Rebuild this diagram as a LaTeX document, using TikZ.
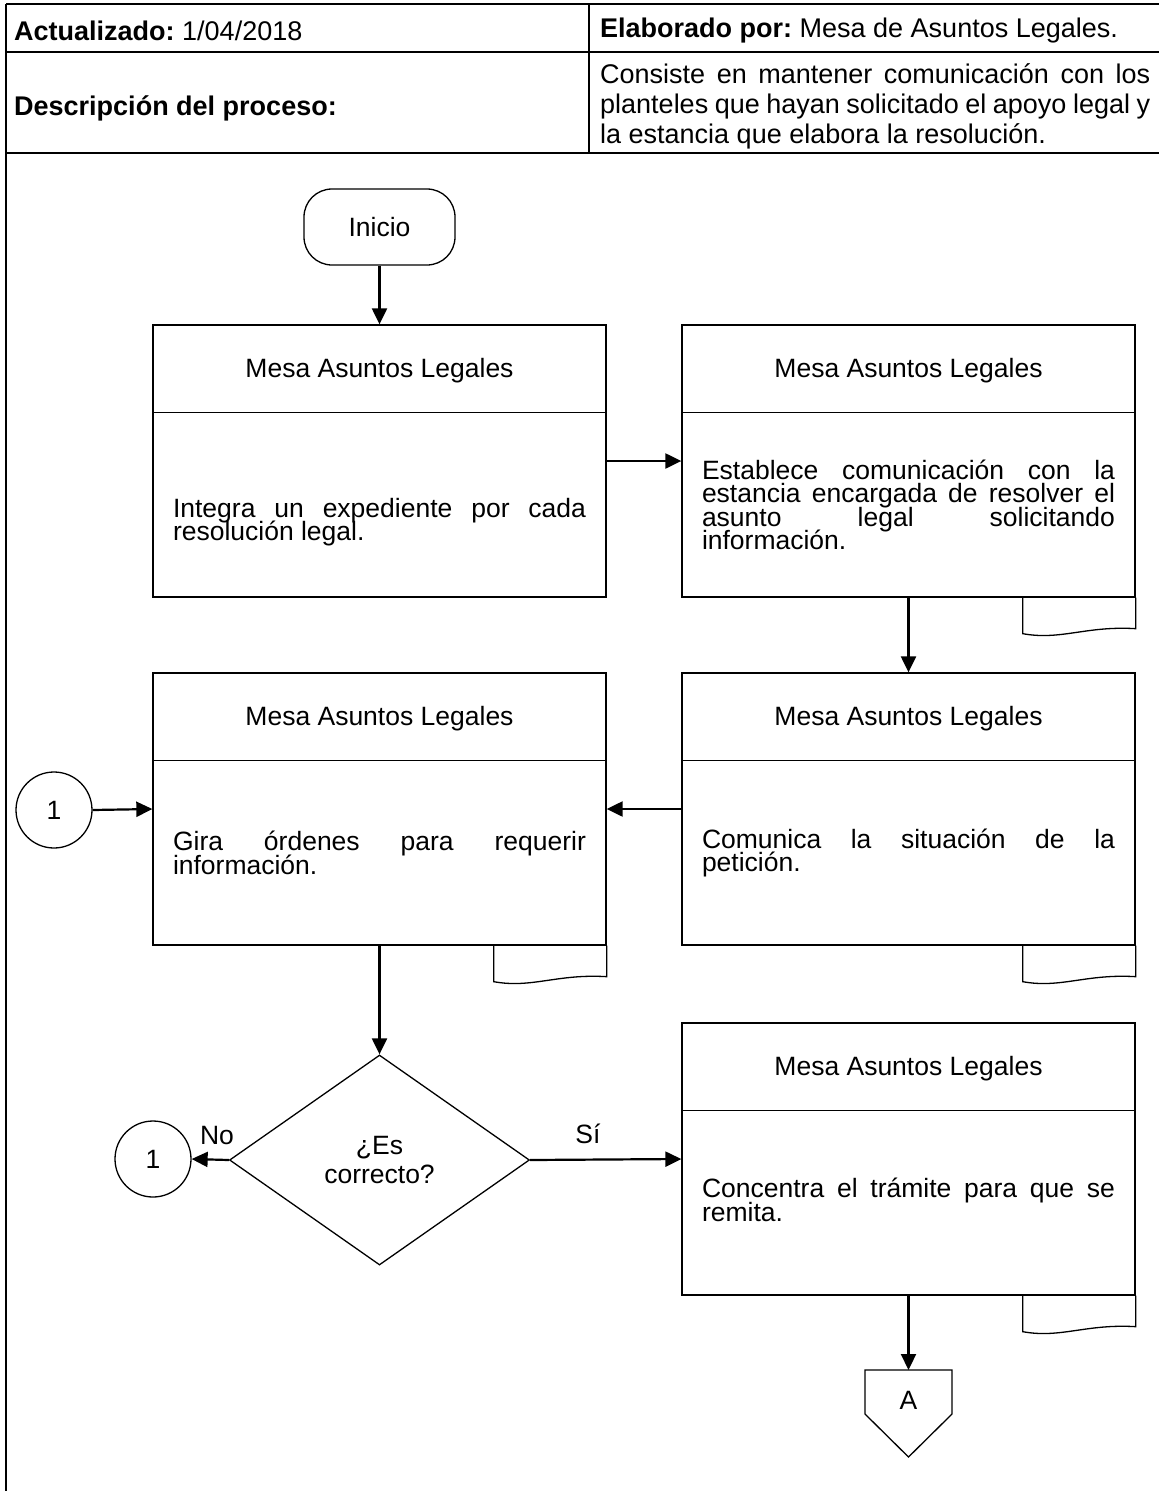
\documentclass[tikz,border=0pt]{standalone}
\usepackage{fontspec}
\setmainfont{Liberation Sans}
\usetikzlibrary{arrows.meta,shapes.geometric,calc}
\frenchspacing
\newcommand\nohyph{\frenchspacing\hyphenpenalty10000\exhyphenpenalty10000\tolerance10000\hbadness10000\lineskiplimit-100pt\relax}
\newcommand\bodyfont{\fontsize{26.5}{23.5}\selectfont\nohyph}
\newcommand\headfont{\fontsize{27}{30}\selectfont\nohyph}
\tikzset{
  every node/.style={font=\bodyfont},
  boxline/.style={line width=1.3pt},
  procbox/.style={draw, boxline, minimum width=453, minimum height=272, inner sep=0},
  titletext/.style={inner sep=0},
  bodytext/.style={text width=413, align=justify, inner sep=0},
  flow/.style={line width=2.2pt, -{Triangle[length=16,width=15]}},
  conn/.style={draw, circle, boxline, minimum size=76, inner sep=0},
  frame/.style={line width=1.6pt},
  headtext/.style={anchor=west, inner sep=0, font=\headfont},
}
\newcommand\procdivider[1]{\draw[boxline] ($(#1.north west)+(0,88)$) -- ($(#1.north east)+(0,88)$);}
\newcommand\doctab[1]{\draw[boxline] ($(#1.south east)+(-113,0)$) -- ($(#1.south east)+(-113,36)$)
  .. controls ($(#1.south east)+(-75,43)$) and ($(#1.south east)+(-50,28)$) .. ($(#1.south east)+(0,31)$)
  -- (#1.south east);}
\begin{document}
\begin{tikzpicture}[x=1pt,y=-1pt]
\useasboundingbox (0,0) rectangle (1159,1491);
% header table
\draw[frame] (6,4) -- (1159,4);
\draw[frame] (6,52) -- (1159,52);
\draw[frame] (6,153) -- (1159,153);
\draw[frame] (6,4) -- (6,1491);
\draw[frame] (589,4) -- (589,153);
\node[headtext] (upd) at (14,31) {\textbf{Actualizado:} 1/04/2018};
\node[headtext] (elab) at (600,31) {\textbf{Elaborado por:} Mesa de Asuntos Legales.};
\node[headtext] (desclbl) at (14,108) {\textbf{Descripción del proceso:}};
\node[headtext, text width=550, align=justify] (desc) at (600,106)
  {Consiste en mantener comunicación con los\linebreak planteles que hayan solicitado el apoyo legal y\linebreak la estancia que elabora la resolución.};

% start
\node[draw, boxline, rounded corners=28, minimum width=151, minimum height=76, inner sep=0] (start) at (379.5,227) {Inicio};

% boxes
\node[procbox] (b1) at (379.5,461) {};
\node[procbox] (b2) at (908.5,461) {};
\node[procbox] (b3) at (908.5,809) {};
\node[procbox] (b4) at (379.5,809) {};
\node[procbox] (b5) at (908.5,1159) {};
\procdivider{b1}\procdivider{b2}\procdivider{b3}\procdivider{b4}\procdivider{b5}
\doctab{b2}\doctab{b3}\doctab{b4}\doctab{b5}

\node[titletext] (b1t) at ($(b1.north)+(0,46)$) {Mesa Asuntos Legales};
\node[titletext] (b2t) at ($(b2.north)+(0,46)$) {Mesa Asuntos Legales};
\node[titletext] (b3t) at ($(b3.north)+(0,46)$) {Mesa Asuntos Legales};
\node[titletext] (b4t) at ($(b4.north)+(0,46)$) {Mesa Asuntos Legales};
\node[titletext] (b5t) at ($(b5.north)+(0,46)$) {Mesa Asuntos Legales};

\node[bodytext] (b1x) at ($(b1.center)+(0,61)$) {Integra un expediente por cada\linebreak resolución legal.};
\node[bodytext] (b2x) at ($(b2.center)+(0,44)$) {Establece comunicación con la\linebreak estancia encargada de resolver el\linebreak asunto legal solicitando\linebreak información.};
\node[bodytext] (b3x) at ($(b3.center)+(0,44)$) {Comunica la situación de la\linebreak petición.};
\node[bodytext] (b4x) at ($(b4.center)+(0,44)$) {Gira órdenes para requerir\linebreak información.};
\node[bodytext] (b5x) at ($(b5.center)+(0,41)$) {Concentra el trámite para que se\linebreak remita.};

% connectors
\node[conn] (c1) at (54,810) {1};
\node[conn] (c2) at (153,1159) {1};

% decision
\node[diamond, draw, boxline, minimum width=300, minimum height=210, aspect=1.43, inner sep=0, align=center, font=\fontsize{26.5}{29}\selectfont] (dec) at (379.5,1160) {¿Es\\correcto?};
\node[inner sep=0] (no) at (217,1135) {No};
\node[inner sep=0] (si) at (588,1134) {Sí};

% off-page connector
\coordinate (offtop) at (908.5,1370);
\draw[boxline] (865,1370) -- (952,1370) -- (952,1414) -- (908.5,1457) -- (865,1414) -- cycle;
\node[inner sep=0] (offA) at (908.5,1400) {A};

% arrows
\draw[flow] (start.south) -- (b1.north);
\draw[flow] (b1.east) -- (b2.west);
\draw[flow] (b2.south) -- (b3.north);
\draw[flow] (b3.west) -- (b4.west -| b4.east);
\draw[flow] (c1.east) -- (b4.west);
\draw[flow] (b4.south) -- (dec.north);
\draw[flow] (dec.west) -- (c2.east);
\draw[flow] (dec.east) -- (b5.west);
\draw[flow] (b5.south) -- (offtop);
\end{tikzpicture}
\end{document}
